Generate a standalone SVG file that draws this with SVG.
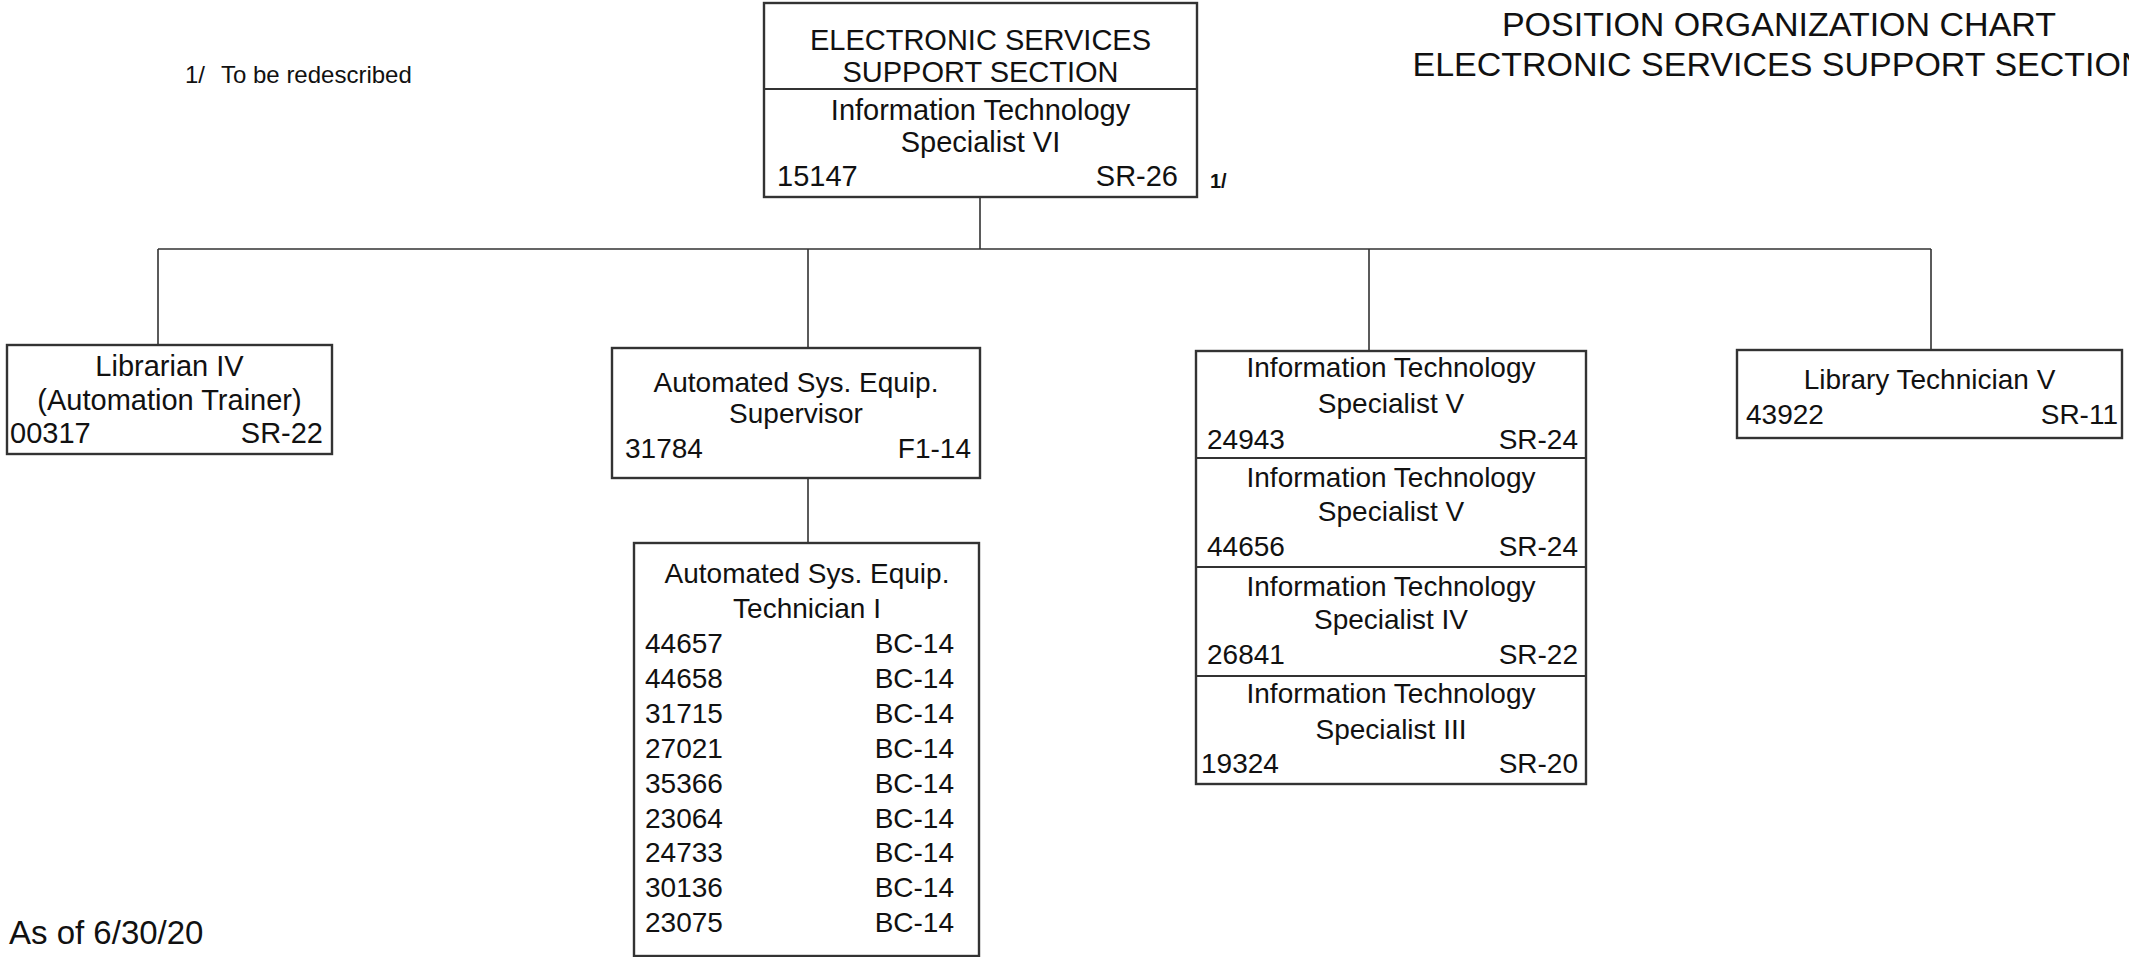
<svg xmlns="http://www.w3.org/2000/svg" width="2129" height="957" viewBox="0 0 2129 957">
<style>
text{font-family:"Liberation Sans",Arial,sans-serif;fill:#111}
.t{font-size:28px}
.h{font-size:29px}
.c{text-anchor:middle}
.r{text-anchor:end}
.box{fill:#fff;stroke:#333;stroke-width:2.4}
.div{stroke:#333;stroke-width:1.8}
.con{stroke:#333;stroke-width:1.6;fill:none}
</style>
<rect width="2129" height="957" fill="#fff"/>
<g id="title">
<text x="1779" y="36" class="c" font-size="34">POSITION ORGANIZATION CHART</text>
<text x="1779" y="76" class="c" font-size="34">ELECTRONIC SERVICES SUPPORT SECTION</text>
</g>
<g id="footnote">
<text x="185" y="83" font-size="24">1/</text>
<text x="221" y="83" font-size="24">To be redescribed</text>
</g>
<g id="asof">
<text x="9" y="944" font-size="33">As of 6/30/20</text>
</g>
<g id="connectors">
<path class="con" d="M980 197V249M158 249H1931M158 249V345M808 249V348M1369 249V351M1931 249V350M808 478V543"/>
</g>
<g id="node-top">
<rect class="box" x="764" y="3" width="433" height="194"/>
<line class="div" x1="764" y1="89" x2="1197" y2="89"/>
<text x="980.5" y="50" class="h c">ELECTRONIC SERVICES</text>
<text x="980.5" y="82" class="h c">SUPPORT SECTION</text>
<text x="980.5" y="120" class="h c">Information Technology</text>
<text x="980.5" y="152" class="h c">Specialist VI</text>
<text x="777" y="186" class="h">15147</text>
<text x="1178" y="186" class="h r">SR-26</text>
<text x="1210" y="188" font-size="20" font-weight="bold">1/</text>
</g>
<g id="node-librarian">
<rect class="box" x="7" y="345" width="325" height="109"/>
<text x="169.5" y="376" class="c" font-size="29">Librarian IV</text>
<text x="169.5" y="410" class="c" font-size="29">(Automation Trainer)</text>
<text x="10" y="443" font-size="29">00317</text>
<text x="323" y="443" class="r" font-size="29">SR-22</text>
</g>
<g id="node-supervisor">
<rect class="box" x="612" y="348" width="368" height="130"/>
<text x="796" y="392" class="t c">Automated Sys. Equip.</text>
<text x="796" y="423" class="t c">Supervisor</text>
<text x="625" y="458" class="t">31784</text>
<text x="971" y="458" class="t r">F1-14</text>
</g>
<g id="node-technician">
<rect class="box" x="634" y="543" width="345" height="413"/>
<text x="807" y="583" class="t c">Automated Sys. Equip.</text>
<text x="807" y="618" class="t c">Technician I</text>
<text x="645" y="653" class="t">44657</text><text x="954" y="653" class="t r">BC-14</text>
<text x="645" y="688" class="t">44658</text><text x="954" y="688" class="t r">BC-14</text>
<text x="645" y="723" class="t">31715</text><text x="954" y="723" class="t r">BC-14</text>
<text x="645" y="758" class="t">27021</text><text x="954" y="758" class="t r">BC-14</text>
<text x="645" y="793" class="t">35366</text><text x="954" y="793" class="t r">BC-14</text>
<text x="645" y="828" class="t">23064</text><text x="954" y="828" class="t r">BC-14</text>
<text x="645" y="862" class="t">24733</text><text x="954" y="862" class="t r">BC-14</text>
<text x="645" y="897" class="t">30136</text><text x="954" y="897" class="t r">BC-14</text>
<text x="645" y="932" class="t">23075</text><text x="954" y="932" class="t r">BC-14</text>
</g>
<g id="node-it">
<rect class="box" x="1196" y="351" width="390" height="433"/>
<line class="div" x1="1196" y1="458" x2="1586" y2="458"/>
<line class="div" x1="1196" y1="567" x2="1586" y2="567"/>
<line class="div" x1="1196" y1="676" x2="1586" y2="676"/>
<text x="1391" y="377" class="t c">Information Technology</text>
<text x="1391" y="413" class="t c">Specialist V</text>
<text x="1207" y="449" class="t">24943</text><text x="1578" y="449" class="t r">SR-24</text>
<text x="1391" y="487" class="t c">Information Technology</text>
<text x="1391" y="521" class="t c">Specialist V</text>
<text x="1207" y="556" class="t">44656</text><text x="1578" y="556" class="t r">SR-24</text>
<text x="1391" y="596" class="t c">Information Technology</text>
<text x="1391" y="629" class="t c">Specialist IV</text>
<text x="1207" y="664" class="t">26841</text><text x="1578" y="664" class="t r">SR-22</text>
<text x="1391" y="703" class="t c">Information Technology</text>
<text x="1391" y="739" class="t c">Specialist III</text>
<text x="1201" y="773" class="t">19324</text><text x="1578" y="773" class="t r">SR-20</text>
</g>
<g id="node-libtech">
<rect class="box" x="1737" y="350" width="385" height="88"/>
<text x="1929.5" y="389" class="t c">Library Technician V</text>
<text x="1746" y="424" class="t">43922</text>
<text x="2118" y="424" class="t r">SR-11</text>
</g>
</svg>
